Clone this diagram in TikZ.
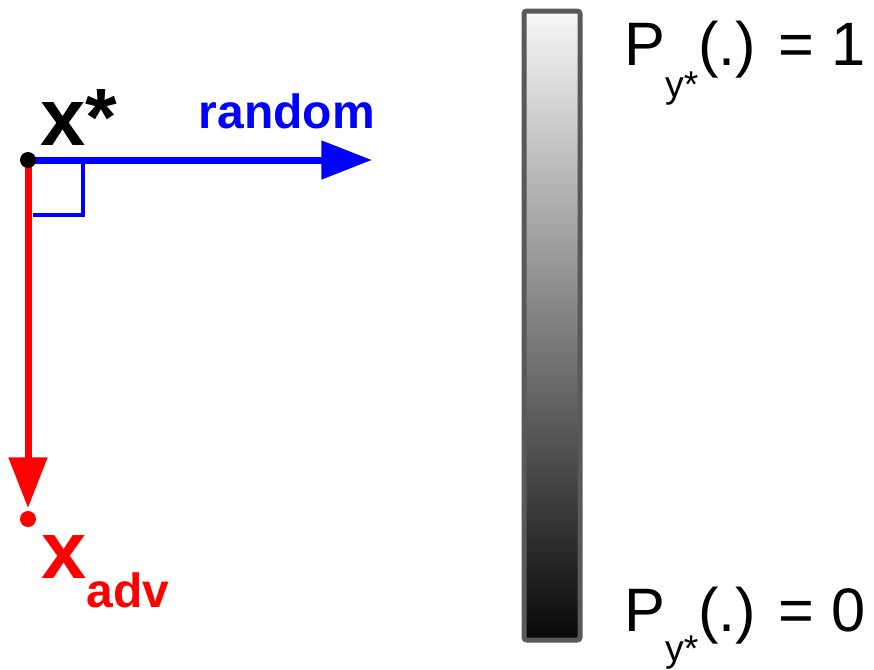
\documentclass[tikz,border=0pt]{standalone}
\usepackage{fontspec}
\setmainfont{Liberation Sans}
\usetikzlibrary{arrows.meta}
\pgfdeclarelayer{background}
\pgfsetlayers{background,main}
\begin{document}
\begin{tikzpicture}[x = 0.75pt, y = -0.75pt,
	dot/.style = {circle, fill, inner sep = 0pt, minimum size = 12pt},
	vec/.style = {line width = 5.25pt, -{Triangle[length = 38pt, width = 28pt]}},
	plbl/.style = {inner sep = 0pt, anchor = base west, font = \fontsize{46}{46}\selectfont}]
\useasboundingbox (0,0) rectangle (874,669);
% probability bar
\shade[top color = white!97!black, bottom color = black!97] (524,11) rectangle (580,640);
\draw[black!65, line width = 3.75pt, rounded corners = 2pt] (524,11) rectangle (580,640);
\node[plbl] (pone) at (624,65) {P\raisebox{-24pt}{\fontsize{28}{28}\selectfont y*}(.) = 1};
\node[plbl] (pzero) at (624,631) {P\raisebox{-23pt}{\fontsize{28}{28}\selectfont y*}(.) = 0};
% directions
\node[dot] (xstar) at (28,160) {};
\node[dot, red] (xadv) at (28,519) {};
\coordinate (rnd) at (372,160);
\begin{pgfonlayer}{background}
\draw[vec, blue] (xstar.center) -- (rnd);
\draw[vec, red, shorten > = 2pt] (xstar.center) -- (xadv);
\end{pgfonlayer}
\draw[blue, line width = 3pt] ([shift = {(5,55)}]xstar.center) -- ([shift = {(55,55)}]xstar.center) -- ([shift = {(55,3)}]xstar.center);
\node[inner sep = 0pt, anchor = base west, font = \fontsize{61}{61}\bfseries] (xlbl) at (40,145) {x*};
\node[blue, inner sep = 0pt, anchor = base east, font = \fontsize{36}{36}\bfseries] (rlbl) at (375,128) {random};
\node[red, inner sep = 0pt, anchor = base west, font = \fontsize{61}{61}\bfseries] (albl) at (41,578) {x\raisebox{-22pt}{\fontsize{36}{36}\selectfont adv}};
\end{tikzpicture}
\end{document}
